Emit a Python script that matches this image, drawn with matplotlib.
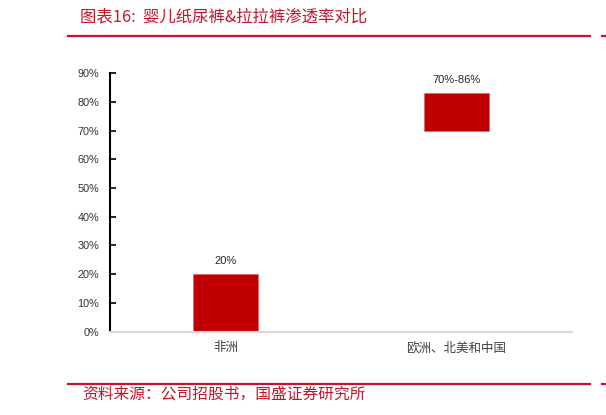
"""
Diaper & pull-up penetration rate comparison
"""
import matplotlib
matplotlib.use('Agg')
import matplotlib.pyplot as plt
import numpy as np

plt.rcParams['font.family'] = ['Liberation Sans', 'Noto Sans CJK SC', 'DejaVu Sans']

categories = ['非洲', '欧洲、北美和中国']
low = [0.0, 0.70]
high = [0.20, 0.83]
value_labels = ['20%', '70%-86%']
yticks = [0.0, 0.1, 0.2, 0.3, 0.4, 0.5, 0.6, 0.7, 0.8, 0.9]
ytick_labels = ['0%', '10%', '20%', '30%', '40%', '50%', '60%', '70%', '80%', '90%']

title = '图表16:  婴儿纸尿裤&拉拉裤渗透率对比'
source = '资料来源：公司招股书，国盛证券研究所'

red = '#C00000'
text_red = '#C4152B'
cjk = ['Noto Sans CJK SC', 'DejaVu Sans']

fig = plt.figure(figsize=(6.06, 4.15), dpi=100)
ax = fig.add_axes([0.1815, 0.201, 0.7624, 0.6224])

x = np.arange(len(categories))
heights = np.array(high) - np.array(low)
ax.bar(x, heights, bottom=low, width=0.28, color=red, edgecolor='#E06060', linewidth=0.4)
for xi, top, lab in zip(x, high, value_labels):
    ax.annotate(lab, (xi, top), xytext=(0, 6), textcoords='offset points',
                ha='center', va='bottom', fontsize=8, color='#262626')

ax.set_xlim(-0.5, 1.5)
ax.set_ylim(0, 0.9)
ax.set_yticks(yticks)
ax.set_yticklabels(ytick_labels, fontsize=7.8, color='#333333')
ax.set_xticks(x)
ax.set_xticklabels(categories, fontsize=9, color='#404040', family=cjk)
ax.tick_params(axis='y', direction='in', length=4, width=1.2, pad=8, color='black')
ax.tick_params(axis='x', length=0, pad=7)

for s in ['top', 'right']:
    ax.spines[s].set_visible(False)
ax.spines['left'].set_color('black')
ax.spines['left'].set_linewidth(1.5)
ax.spines['bottom'].set_color('#D9D9D9')
ax.spines['bottom'].set_linewidth(1.5)

# header / footer
fig.text(80 / 606, 1 - 17 / 415, title, fontsize=11.8, color=text_red,
         ha='left', va='center', family=cjk)
for yy in [36, 384]:
    fig.add_artist(plt.Line2D([68 / 606, 590 / 606], [1 - yy / 415] * 2, color=text_red, lw=1.6))
    fig.add_artist(plt.Line2D([602 / 606, 1.0], [1 - yy / 415] * 2, color=text_red, lw=1.6))
fig.text(82 / 606, 1 - 394 / 415, source, fontsize=11.3, color=text_red,
         ha='left', va='center', family=cjk)

fig.savefig('out.png', dpi=100)
